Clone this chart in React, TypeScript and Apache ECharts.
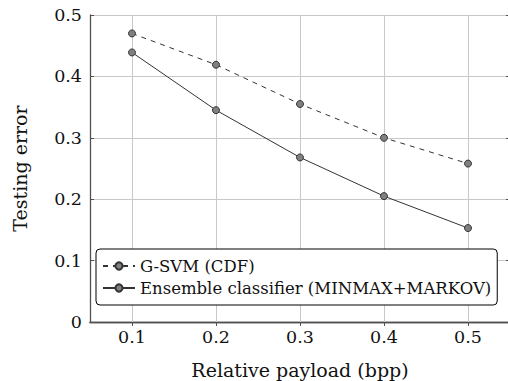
import React, { useEffect, useRef } from "react";
import * as echarts from "echarts";

const payloads = [0.1, 0.2, 0.3, 0.4, 0.5];
const gsvmCdf = [0.470, 0.419, 0.355, 0.300, 0.258];
const ensemble = [0.439, 0.345, 0.268, 0.205, 0.153];
const seriesNames = ["G-SVM (CDF)", "Ensemble classifier (MINMAX+MARKOV)"];
const xTicks = [0.1, 0.2, 0.3, 0.4, 0.5];
const yTicks = [0, 0.1, 0.2, 0.3, 0.4, 0.5];

const FONT = "DejaVu Serif";

export default function App() {
  const ref = useRef<HTMLDivElement>(null);
  useEffect(() => {
    if (!ref.current) return;
    const chart = echarts.init(ref.current, null, { renderer: "svg" });
    const axisLine = { show: true, lineStyle: { color: "#505050", width: 1.3 } };
    const fmt = (v: number) => {
      const r = Math.round(v * 10) / 10;
      return r === 0 ? "0" : r.toFixed(1);
    };
    chart.setOption({
      animation: false,
      backgroundColor: "#fff",
      textStyle: { fontFamily: FONT },
      grid: { left: 90, top: 15, width: 420, height: 307, outerBoundsMode: "none", containLabel: false },
      xAxis: [
        {
          type: "value",
          min: 0.05,
          max: 0.55,
          position: "bottom",
          axisLine,
          axisTick: {
            show: true,
            inside: true,
            length: 4,
            customValues: xTicks,
            lineStyle: { color: "#505050" },
          },
          axisLabel: {
            fontFamily: FONT,
            fontSize: 17.5,
            color: "#111",
            margin: 6,
            customValues: xTicks,
            formatter: (v: number) => fmt(v),
          },
          splitLine: { show: true, lineStyle: { color: "#c8c8c8", width: 1 } },
          name: "Relative payload (bpp)",
          nameLocation: "middle",
          nameGap: 38,
          nameTextStyle: { fontFamily: FONT, fontSize: 19, color: "#111" },
        },
        {
          type: "value",
          min: 0.05,
          max: 0.55,
          position: "top",
          axisLine,
          axisTick: { show: true, inside: true, length: 4, customValues: xTicks, lineStyle: { color: "#505050" } },
          axisLabel: { show: false },
          splitLine: { show: false },
        },
      ],
      yAxis: [
        {
          type: "value",
          min: 0,
          max: 0.5,
          interval: 0.1,
          position: "left",
          axisLine,
          axisTick: { show: true, inside: true, length: 4, lineStyle: { color: "#505050" } },
          axisLabel: {
            fontFamily: FONT,
            fontSize: 17.5,
            color: "#111",
            margin: 8,
            customValues: yTicks,
            formatter: (v: number) => fmt(v),
          },
          splitLine: { show: true, lineStyle: { color: "#c8c8c8", width: 1 } },
          name: "Testing error",
          nameLocation: "middle",
          nameGap: 61,
          nameTextStyle: { fontFamily: FONT, fontSize: 19, color: "#111" },
        },
        {
          type: "value",
          min: 0,
          max: 0.5,
          interval: 0.1,
          position: "right",
          axisLine,
          axisTick: { show: true, inside: true, length: 4, lineStyle: { color: "#505050" } },
          axisLabel: { show: false },
          splitLine: { show: false },
        },
      ],
      legend: {
        orient: "vertical",
        left: 96,
        top: 249,
        padding: [7, 6, 7, 6],
        itemGap: 2,
        itemWidth: 32,
        itemHeight: 9,
        borderColor: "#000",
        borderWidth: 1,
        borderRadius: 4,
        backgroundColor: "#fff",
        z: 10,
        textStyle: { fontFamily: FONT, fontSize: 16.5, color: "#111", lineHeight: 20 },
        data: seriesNames,
      },
      series: [
        {
          name: seriesNames[0],
          type: "line",
          data: payloads.map((p, i) => [p, gsvmCdf[i]]),
          symbol: "circle",
          symbolSize: 7,
          lineStyle: { color: "#333", width: 1, type: [5, 5] },
          itemStyle: { color: "#808080", borderColor: "#333", borderWidth: 1 },
          z: 3,
        },
        {
          name: seriesNames[1],
          type: "line",
          data: payloads.map((p, i) => [p, ensemble[i]]),
          symbol: "circle",
          symbolSize: 7,
          lineStyle: { color: "#333", width: 1 },
          itemStyle: { color: "#808080", borderColor: "#333", borderWidth: 1 },
          z: 3,
        },
      ],
    });
    // vertical grid lines at the x ticks, placed through the axis scale
    const gridLines = xTicks.map((t) => {
      const p0 = chart.convertToPixel({ xAxisIndex: 0, yAxisIndex: 0 }, [t, 0]) as number[];
      const p1 = chart.convertToPixel({ xAxisIndex: 0, yAxisIndex: 0 }, [t, 0.5]) as number[];
      const x = Math.round(p0[0]) + 0.5;
      return {
        type: "line",
        z: 1,
        silent: true,
        shape: { x1: x, y1: p0[1], x2: x, y2: p1[1] },
        style: { stroke: "#c8c8c8", lineWidth: 1 },
      };
    });
    chart.setOption({ graphic: { elements: gridLines } });
    return () => chart.dispose();
  }, []);
  return (
    <div
      ref={ref}
      style={{ position: "fixed", left: 0, top: 0, width: 508, height: 381, background: "#fff" }}
    />
  );
}
